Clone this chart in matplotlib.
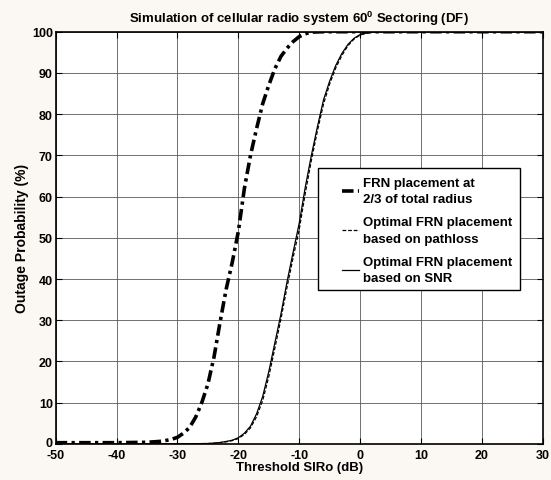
import matplotlib
matplotlib.use('Agg')
import matplotlib.pyplot as plt
from matplotlib.patches import Rectangle
from matplotlib.transforms import ScaledTranslation

plt.rcParams['font.family'] = ['Liberation Sans', 'DejaVu Sans']
plt.rcParams['font.weight'] = 'bold'
plt.rcParams['axes.unicode_minus'] = False
plt.rcParams['mathtext.fontset'] = 'custom'
plt.rcParams['mathtext.rm'] = 'Liberation Sans:bold'
plt.rcParams['mathtext.default'] = 'rm'

# FRN placement at 2/3 of the total radius (dash-dot)
sir_23 = [-50, -40, -35, -33, -32, -31, -30, -29, -28, -27, -26, -25, -24, -23,
          -22, -21, -20, -19, -18, -17, -16, -15, -14, -13, -12, -11, -10, -9,
          -8, -6, 0, 30]
out_23 = [0.3, 0.3, 0.4, 0.6, 0.8, 1.1, 1.6, 2.6, 4.0, 6.5, 10.0, 14.5, 21.0, 29.5,
          37.5, 44.0, 51.5, 62.0, 70.0, 76.5, 82.5, 87.0, 91.0, 94.0, 96.0, 97.6, 98.8, 99.5,
          99.9, 100, 100, 100]

# optimal placement, pathloss (dashed) and SNR (solid)
sir_opt = [-50, -30, -25, -24, -23, -22, -21, -20, -19, -18, -17, -16, -15, -14,
           -13, -12, -11, -10, -9, -8, -7, -6, -5, -4, -3, -2, -1, 0,
           1, 2, 3, 30]
out_pl = [0, 0, 0.1, 0.15, 0.3, 0.5, 0.8, 1.3, 2.3, 3.9, 6.6, 10.5, 16.3, 23.2,
          30.3, 38.0, 45.2, 52.0, 60.8, 68.8, 76.0, 82.5, 87.3, 91.2, 94.2, 96.6, 98.2, 99.2,
          99.6, 99.9, 100, 100]
out_snr = [0, 0, 0.1, 0.2, 0.35, 0.6, 0.9, 1.5, 2.6, 4.3, 7.3, 11.5, 17.5, 24.5,
           31.5, 39.3, 46.5, 53.5, 62.3, 70.0, 77.0, 83.5, 88.0, 91.8, 94.7, 96.9, 98.4, 99.3,
           99.7, 99.9, 100, 100]

labels = ['FRN placement at\n2/3 of total radius',
          'Optimal FRN placement\nbased on pathloss',
          'Optimal FRN placement\nbased on SNR']

fig = plt.figure(figsize=(5.51, 4.81), dpi=100)
fig.patch.set_facecolor('#fbf7f2')
ax = fig.add_axes([0.101, 0.075, 0.884, 0.857])

ax.plot(sir_23, out_23, color='black', lw=2.6, linestyle=(0, (3.2, 1.2, 0.9, 1.2)), label=labels[0])
ax.plot(sir_opt, out_pl, color='black', lw=0.9, linestyle=(0, (3, 1.5)), label=labels[1])
ax.plot(sir_opt, out_snr, color='black', lw=0.9, linestyle='-', label=labels[2])

ax.set_xlim(-50, 30)
ax.set_ylim(0, 100)
ax.set_xticks(range(-50, 31, 10))
ax.set_yticks(range(0, 101, 10))
ax.grid(True, color='0.35', lw=0.6)
ax.tick_params(direction='in', top=True, right=True, length=4, width=0.8,
               labelsize=9, pad=2)
ax.tick_params(axis='x', pad=4)
for lab in ax.get_xticklabels() + ax.get_yticklabels():
    lab.set_fontweight('bold')
# lift the "0" on the y axis a bit so it clears "-50"
ylab0 = ax.get_yticklabels()[0]
ylab0.set_transform(ylab0.get_transform() + ScaledTranslation(0, 2 / 72, fig.dpi_scale_trans))
for s in ax.spines.values():
    s.set_linewidth(1.2)

ax.set_title('Simulation of cellular radio system 60$^0$ Sectoring (DF)',
             fontsize=9.5, fontweight='bold', pad=7)
ax.set_xlabel('Threshold SIRo (dB)', fontsize=9.5, fontweight='bold', labelpad=0)
ax.set_ylabel('Outage Probability (%)', fontsize=10, fontweight='bold', labelpad=2)

# legend box drawn by hand (MATLAB style wide left margin)
ax.add_patch(Rectangle((0.5376, 0.373), 0.4164, 0.296, transform=ax.transAxes,
                       facecolor='white', edgecolor='black', lw=1.0, zorder=4))
leg = ax.legend(loc='upper left', bbox_to_anchor=(0.588, 0.647), borderaxespad=0,
                fontsize=9.5, handlelength=1.3, handletextpad=0.3, frameon=False,
                labelspacing=0.85, borderpad=0)
for t in leg.get_texts():
    t.set_linespacing(1.45)
leg.set_zorder(5)

fig.savefig('out.png', dpi=100, facecolor=fig.get_facecolor())
